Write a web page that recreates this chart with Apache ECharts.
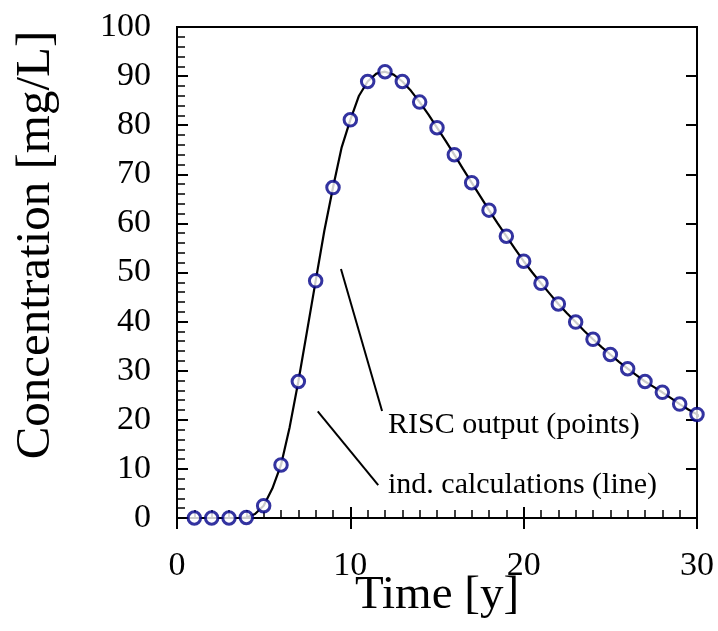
<!DOCTYPE html>
<html>
<head>
<meta charset="utf-8">
<script src="https://cdn.jsdelivr.net/npm/echarts@6/dist/echarts.min.js"></script>
<style>html,body{margin:0;padding:0;background:#fff}#c{width:718px;height:631px}</style>
</head>
<body>
<div id="c"></div>
<script>
// RISC output (points)
const pointX = [1,2,3,4,5,6,7,8,9,10,11,12,13,14,15,16,17,18,19,20,21,22,23,24,25,26,27,28,29,30];
const pointY = [0,0,0,0.1,2.5,10.8,27.8,48.3,67.3,81.1,88.9,90.9,88.9,84.7,79.5,74.0,68.3,62.7,57.4,52.3,47.8,43.6,39.9,36.4,33.3,30.4,27.8,25.6,23.2,21.1];
// independent calculations (line)
const lineX = [1,1.5,2,2.5,3,3.5,4,4.5,5,5.5,6,6.5,7,7.5,8,8.5,9,9.5,10,10.5,11,11.5,12,12.5,13,13.5,14,14.5,15,15.5,16,16.5,17,17.5,18,18.5,19,19.5,20,20.5,21,21.5,22,22.5,23,23.5,24,24.5,25,25.5,26,26.5,27,27.5,28,28.5,29,29.5,30,30.5];
const lineY = [0,0,0,0,0,0,0.1,0.8,2.5,6.0,10.8,18.5,27.8,38.0,48.3,58.5,67.3,75.5,81.1,86.0,88.9,90.5,90.9,90.3,88.9,87.0,84.7,82.2,79.5,76.8,74.0,71.1,68.3,65.5,62.7,60.0,57.4,54.8,52.3,50.0,47.8,45.7,43.6,41.7,39.9,38.1,36.4,34.8,33.3,31.8,30.4,29.1,27.8,26.7,25.6,24.4,23.2,22.1,21.1,19.7];
// annotation leader lines (data coords)
const leader1 = [[9.46, 50.7], [11.83, 21.8]];
const leader2 = [[8.12, 21.7], [11.61, 6.7]];
const xTicks = {min: 0, max: 30, interval: 10};
const yTicks = {min: 0, max: 100, interval: 10};
const annoText1 = 'RISC output (points)';
const annoText2 = 'ind. calculations (line)';
const xTitle = 'Time [y]';
const yTitle = 'Concentration [mg/L]';

const serif = '"Liberation Serif","Times New Roman",Times,serif';
const chart = echarts.init(document.getElementById('c'), null, {renderer: 'canvas'});
const axisLineStyle = {color: '#000', width: 2};
chart.setOption({
  animation: false,
  backgroundColor: '#fff',
  grid: {left: 177, top: 27, width: 520, height: 491, containLabel: false, outerBoundsMode: 'none', show: true, borderColor: '#000', borderWidth: 2, backgroundColor: 'transparent'},
  xAxis: [{
    type: 'value', position: 'bottom', min: xTicks.min, max: xTicks.max, interval: xTicks.interval,
    axisLine: {show: true, onZero: false, lineStyle: axisLineStyle},
    axisTick: {show: true, inside: true, length: 11, lineStyle: {color: '#000', width: 2}},
    minorTick: {show: true, splitNumber: 10, length: 8, lineStyle: {color: '#000', width: 1.5}},
    splitLine: {show: false},
    axisLabel: {show: true, margin: 31, color: '#000', fontFamily: serif, fontSize: 34},
    name: xTitle, nameLocation: 'middle', nameGap: 54, nameMoveOverlap: false,
    nameTextStyle: {color: '#000', fontFamily: serif, fontSize: 47}
  }, {
    type: 'value', position: 'top', offset: -491, min: xTicks.min, max: xTicks.max, interval: xTicks.interval,
    axisLine: {show: false},
    axisTick: {show: true, inside: true, length: 11, lineStyle: {color: '#000', width: 2}},
    axisLabel: {show: false}, splitLine: {show: false}
  }],
  yAxis: [{
    type: 'value', position: 'left', min: yTicks.min, max: yTicks.max, interval: yTicks.interval,
    axisLine: {show: true, onZero: false, lineStyle: axisLineStyle},
    axisTick: {show: true, inside: true, length: 11, lineStyle: {color: '#000', width: 2}},
    minorTick: {show: true, splitNumber: 5, length: 8, lineStyle: {color: '#000', width: 1.5}},
    splitLine: {show: false},
    axisLabel: {show: true, margin: 26, color: '#000', fontFamily: serif, fontSize: 34}
  }, {
    type: 'value', position: 'right', offset: -520, min: yTicks.min, max: yTicks.max, interval: yTicks.interval,
    axisLine: {show: false},
    axisTick: {show: true, inside: true, length: 11, lineStyle: {color: '#000', width: 2}},
    axisLabel: {show: false}, splitLine: {show: false}
  }],
  series: [{
    type: 'line',
    data: lineX.map((x, i) => [x, lineY[i]]),
    showSymbol: false, symbol: 'none', clip: false, smooth: false,
    lineStyle: {color: '#000', width: 2.2},
    z: 2,
    markLine: {
      silent: true, symbol: ['none', 'none'], label: {show: false},
      lineStyle: {color: '#000', width: 2, type: 'solid'},
      data: [
        [{coord: leader1[0]}, {coord: leader1[1]}],
        [{coord: leader2[0]}, {coord: leader2[1]}]
      ]
    }
  }, {
    type: 'scatter',
    data: pointX.map((x, i) => [x, pointY[i]]),
    symbol: 'circle', symbolSize: 12.5, clip: false,
    itemStyle: {color: '#fff', borderColor: '#000088', borderWidth: 3},
    z: 3
  }],
  graphic: [
    {type: 'text', left: 388, top: 410, style: {text: annoText1, fill: '#000', font: '30px ' + serif}},
    {type: 'text', left: 388, top: 470, style: {text: annoText2, fill: '#000', font: '30px ' + serif}},
    {type: 'text', x: 36, y: 245, rotation: Math.PI / 2, style: {text: yTitle, fill: '#000', font: '49px ' + serif, align: 'center', verticalAlign: 'middle'}}
  ]
});
</script>
</body>
</html>
